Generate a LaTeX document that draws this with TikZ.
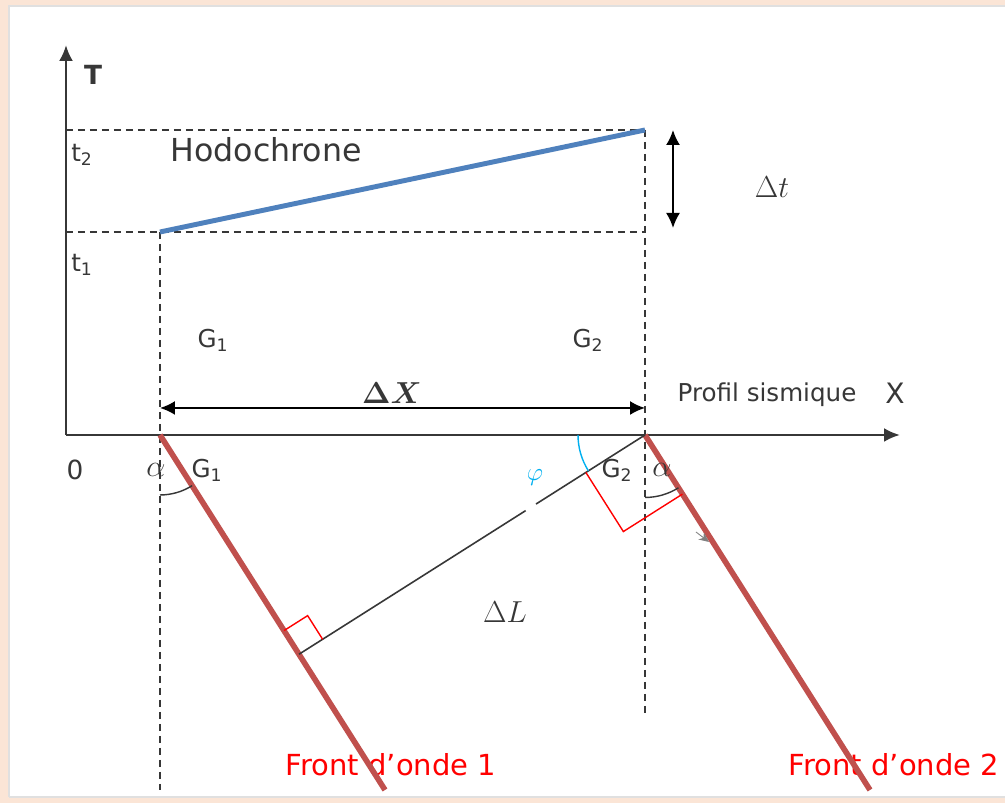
\documentclass[tikz,border=0pt]{standalone}
\usepackage{fontspec}
\usepackage{amsmath}
\setmainfont{DejaVu Sans}
\usetikzlibrary{arrows.meta, calc, positioning}
\definecolor{framepeach}{RGB}{251,229,214}
\definecolor{frontred}{RGB}{192,80,77}
\definecolor{hodoblue}{RGB}{79,129,189}
\definecolor{phiblue}{RGB}{0,176,240}
\definecolor{darkgray}{RGB}{55,55,55}

\begin{document}
\begin{tikzpicture}[
    x=0.02cm, y=0.02cm,
    axis/.style={-{Latex[length=3.2mm, width=2.8mm]}, line width=1.5pt, draw=darkgray},
    guide/.style={dash pattern=on 1.5mm off 0.9mm, line width=1.3pt, draw=darkgray},
    front/.style={line width=3.2pt, draw=frontred},
    hodo/.style={line width=2.8pt, draw=hodoblue},
    measure/.style={{Latex[length=3mm, width=2.8mm]}-{Latex[length=3mm, width=2.8mm]}, line width=1.1pt},
    rightmark/.style={draw=red, line width=0.8pt},
    anglemark/.style={line width=0.8pt, draw=darkgray},
    txt/.style={font=\fontsize{14}{16}\selectfont, text=darkgray},
    mathtxt/.style={font=\fontsize{17}{19}\selectfont, text=darkgray},
    fronttxt/.style={font=\fontsize{16.5}{18}\selectfont, text=red}
]
\useasboundingbox (0,0) rectangle (1005,803);

% Frame
\fill[framepeach] (0,0) rectangle (1005,803);
\fill[white] (9,6) rectangle (1005,797);
\draw[black!12, line width=0.8pt] (9,6) -- (9,797) -- (1005,797);
\draw[black!12, line width=0.8pt] (9,6) -- (1005,6);

% Points
\coordinate (origin) at (66,368);
\coordinate (ttop) at (66,758);
\coordinate (xend) at (900,368);
\coordinate (g1) at (160,368);
\coordinate (g2) at (645,368);
\coordinate (t1) at (66,571);
\coordinate (t2) at (66,673);
\coordinate (h1) at (160,571);
\coordinate (h2) at (645,673);
\coordinate (c1) at (645,571);
\coordinate (b1) at (160,13);
\coordinate (b2) at (645,88);
\coordinate (f1end) at (385,13);
\coordinate (f2end) at (870,13);
\coordinate (f1) at ($(g1)!(g2)!(f1end)$);

% Hodochrone
\draw[guide] (t2) -- (h2);
\draw[guide] (t1) -- (c1);
\draw[guide] (h1) -- (b1);
\draw[guide] (h2) -- (b2);
\draw[hodo] (h1) -- (h2);

% Axes
\draw[axis] (origin) -- (ttop);
\draw[axis] (origin) -- (xend);

% Measures
\coordinate (dttop) at (673,673);
\coordinate (dtbot) at (673,575);
\draw[measure] (dttop) -- (dtbot);
\coordinate (dxleft) at (160,395);
\coordinate (dxright) at (645,395);
\draw[measure] (dxleft) -- (dxright);

% Labels
\node[txt, font=\fontsize{15}{17}\selectfont\bfseries] (tlab) at (93,728) {T};
\node[txt] (t2lab) at (82,648) {t\textsubscript{2}};
\node[txt] (t1lab) at (82,538) {t\textsubscript{1}};
\node[txt, font=\fontsize{18}{20}\selectfont] (hodolab) at (266,653) {Hodochrone};
\node[mathtxt] (dtlab) at (772,616) {$\Delta t$};
\node[txt] (g1top) at (213,463) {G\textsubscript{1}};
\node[txt] (g2top) at (588,463) {G\textsubscript{2}};
\node[mathtxt] (dxlab) at (392,410) {$\boldsymbol{\Delta X}$};
\node[txt] (proflab) at (767,408) {Profil sismique};
\node[txt, font=\fontsize{16}{18}\selectfont] (xlab) at (895,410) {X};
\node[txt, font=\fontsize{15}{17}\selectfont] (zero) at (75,333) {0};
\node[fronttxt] (front1lab) at (391,38) {Front d’onde 1};
\node[fronttxt] (front2lab) at (894,38) {Front d’onde 2};

% Wave fronts
\draw[front] (g1) -- (f1end);
\draw[front] (g2) -- (f2end);

% Delta L
\coordinate (gapa) at ($(f1)!0.655!(g2)$);
\coordinate (gapb) at ($(f1)!0.685!(g2)$);
\draw[line width=0.9pt, draw=darkgray] (f1) -- (gapa);
\draw[line width=0.9pt, draw=darkgray] (gapb) -- (g2);
\node[mathtxt] (dllab) at (505,191) {$\Delta L$};

% Right angles
\coordinate (r1a) at ($(f1)!0.56cm!(g1)$);
\coordinate (r1b) at ($(f1)!0.56cm!(g2)$);
\draw[rightmark] (r1a) -- ($(r1a)+(r1b)-(f1)$) -- (r1b);
\coordinate (r2a) at ($(g2)!1.4cm!(f1)$);
\coordinate (r2b) at ($(g2)!1.4cm!(f2end)$);
\draw[rightmark] (r2a) -- ($(r2a)+(r2b)-(g2)$) -- (r2b);

% Angles
\draw[anglemark] ($(g1)+(-90:1.2cm)$) arc[start angle=-90, end angle=-57.6, radius=1.2cm];
\draw[anglemark] ($(g2)+(-90:1.25cm)$) arc[start angle=-90, end angle=-57.6, radius=1.25cm];
\draw[phiblue, line width=0.8pt] ($(g2)+(180:1.34cm)$) arc[start angle=180, end angle=212.4, radius=1.34cm];
\node[mathtxt] (alpha1) at (156,333) {$\alpha$};
\node[txt] (g1bot) at (207,333) {G\textsubscript{1}};
\node[txt] (g2bot) at (617,333) {G\textsubscript{2}};
\node[mathtxt] (alpha2) at (662,333) {$\alpha$};
\node[mathtxt, text=phiblue, font=\fontsize{14}{16}\selectfont] (philab) at (535,325) {$\varphi$};

% Propagation tick
\coordinate (tickfrom) at (696,271);
\coordinate (tickto) at (709,261);
\draw[-{Stealth[length=2mm, width=1.8mm]}, line width=0.5pt, draw=black!50] (tickfrom) -- (tickto);

\end{tikzpicture}
\end{document}
